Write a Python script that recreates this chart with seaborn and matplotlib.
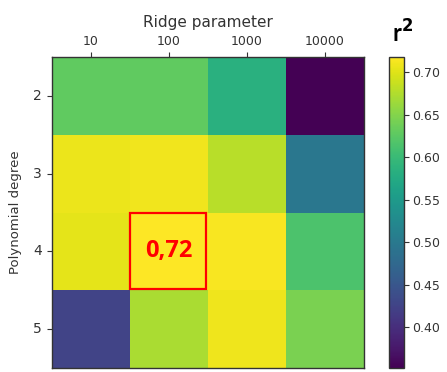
import matplotlib
matplotlib.use("Agg")
import matplotlib.pyplot as plt
import seaborn as sns
import numpy as np
import pandas as pd
from matplotlib.patches import Rectangle

ridge = ["10", "100", "1000", "10000"]
degree = ["2", "3", "4", "5"]
row_2 = [0.628, 0.628, 0.585, 0.352]
row_3 = [0.707, 0.710, 0.678, 0.497]
row_4 = [0.703, 0.718, 0.714, 0.615]
row_5 = [0.425, 0.672, 0.708, 0.645]

df = pd.DataFrame([row_2, row_3, row_4, row_5], index=degree, columns=ridge)

plt.rcParams['font.family'] = ['DejaVu Sans']
W, H = 447, 372
fig = plt.figure(figsize=(W / 100, H / 100), dpi=100)
ax = fig.add_axes([52 / W, 1 - 368 / H, (364 - 52) / W, (368 - 57) / H])
cax = fig.add_axes([389 / W, 1 - 368 / H, (404 - 389) / W, (368 - 57) / H])

sns.heatmap(df, ax=ax, cmap="viridis", cbar_ax=cax, vmin=0.352, vmax=0.718,
            cbar_kws={"ticks": [0.40, 0.45, 0.50, 0.55, 0.60, 0.65, 0.70]})

ax.xaxis.tick_top()
ax.xaxis.set_label_position("top")
ax.set_xlabel("Ridge parameter", fontsize=11, color="#333333", labelpad=6)
ax.set_ylabel("Polynomial degree", fontsize=9.5, color="#333333", labelpad=8)
ax.tick_params(axis="x", labelsize=9, colors="#333333", length=3.5, rotation=0, pad=3)
ax.tick_params(axis="y", labelsize=10, colors="#333333", length=3.5, rotation=0, pad=4)
for s in ax.spines.values():
    s.set_visible(True)
    s.set_linewidth(1.0)
    s.set_color("#333333")

cb = ax.collections[0].colorbar
cb.outline.set_visible(True)
cb.outline.set_linewidth(1.0)
cb.outline.set_edgecolor("#333333")
cax.tick_params(labelsize=9, colors="#333333", length=3.5, pad=2)
cax.yaxis.set_major_formatter(matplotlib.ticker.FormatStrFormatter("%.2f"))

fig.text(403 / W, 1 - 33 / H, "r$^\\mathbf{2}$", fontsize=17, fontweight="bold",
         ha="center", va="center", family="Lato")

ax.add_patch(Rectangle((1.0, 2.0), 0.98, 0.99, fill=False, edgecolor="red", linewidth=1.6))
ax.text(1.5, 2.5, "0,72", color="red", fontsize=17, fontweight="bold",
        ha="center", va="center", family="Open Sans")

fig.savefig("out.png", dpi=100)
